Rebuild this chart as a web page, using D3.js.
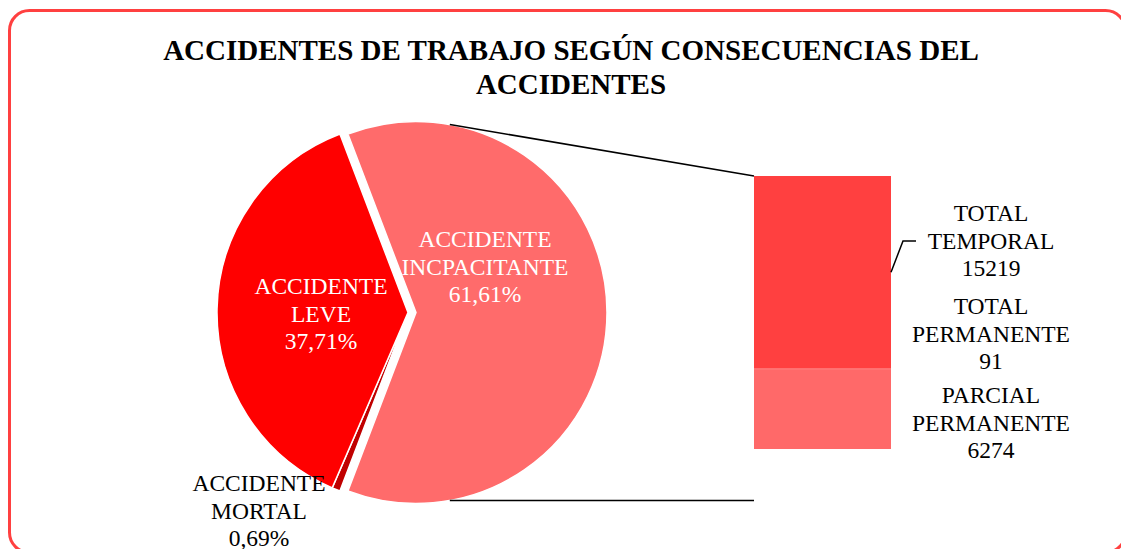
<!DOCTYPE html>
<html>
<head>
<meta charset="utf-8">
<script src="https://cdn.jsdelivr.net/npm/d3@7"></script>
<style>
  body { margin: 0; background: #fff; }
  text { font-family: "Liberation Serif", "Times New Roman", serif; }
</style>
</head>
<body>
<div class="chart-pie"></div>
<script>
// datos del gráfico
var pieLabels = [["ACCIDENTE", "INCPACITANTE"], ["ACCIDENTE", "MORTAL"], ["ACCIDENTE", "LEVE"]];
var pieValues = [61.61, 0.69, 37.71];
var pieColors = ["#FF6B6B", "#C00000", "#FF0000"];

var barLabels = [["PARCIAL", "PERMANENTE"], ["TOTAL", "PERMANENTE"], ["TOTAL", "TEMPORAL"]];
var barValues = [6274, 91, 15219];
var barColors = ["#FF6969", "#FF4545", "#FF4040"];

var title = ["ACCIDENTES DE TRABAJO SEGÚN CONSECUENCIAS DEL", "ACCIDENTES"];

var W = 1121, H = 549;
var svg = d3.select(".chart-pie").append("svg")
  .attr("width", W).attr("height", H);

// borde redondeado
svg.append("rect")
  .attr("x", 9.5).attr("y", 10.5)
  .attr("width", 1116).attr("height", 542)
  .attr("rx", 20).attr("ry", 20)
  .attr("fill", "none").attr("stroke", "#FF4040").attr("stroke-width", 3);

// titulo
svg.append("text")
  .attr("x", 571).attr("y", 60)
  .attr("text-anchor", "middle")
  .style("font-size", "29px").style("font-weight", "bold")
  .selectAll("tspan").data(title).enter().append("tspan")
  .attr("x", 571).attr("dy", (d, i) => i ? 34 : 0)
  .text(d => d);

// pastel
var cx = 408, cy = 312.5, r = 191, explode = 8;
var share = pieValues[0] / d3.sum(pieValues);
var pie = d3.pie().sort(null)
  .startAngle(Math.PI / 2 - share * Math.PI)
  .endAngle(Math.PI / 2 - share * Math.PI + 2 * Math.PI);
var arcs = pie(pieValues);
var arc = d3.arc().innerRadius(0).outerRadius(r);

var chart = svg.append("g").attr("transform", "translate(" + cx + "," + cy + ")");
chart.selectAll("path").data(arcs).enter().append("path")
  .attr("d", arc)
  .attr("transform", (d, i) => i === 0 ? "translate(" + explode + ",0)" : null)
  .attr("fill", (d, i) => pieColors[i])
  .attr("stroke", "#fff").attr("stroke-width", 1.5);

// barra
var barX = 754, barW = 137;
var yScale = d3.scaleLinear().domain([0, d3.sum(barValues)]).range([449, 176]);
var stacked = [];
barValues.reduce((acc, v, i) => { stacked.push([acc, acc + v, i]); return acc + v; }, 0);

svg.append("g").selectAll("rect").data(stacked).enter().append("rect")
  .attr("x", barX).attr("width", barW)
  .attr("y", d => yScale(d[1]))
  .attr("height", d => yScale(d[0]) - yScale(d[1]))
  .attr("fill", d => barColors[d[2]]);

// lineas de conexion
var connAng = 10.2 * Math.PI / 180;
var pcx = cx + explode;
var topStart = [pcx + r * Math.sin(connAng), cy - r * Math.cos(connAng)];
var botStart = [pcx + r * Math.sin(Math.PI - connAng), cy - r * Math.cos(Math.PI - connAng)];
var line = d3.line();
svg.append("path").attr("d", line([topStart, [barX, yScale(d3.sum(barValues))]]))
  .attr("fill", "none").attr("stroke", "#000").attr("stroke-width", 1.5);
svg.append("path").attr("d", line([botStart, [barX, botStart[1]]]))
  .attr("fill", "none").attr("stroke", "#000").attr("stroke-width", 1.5);

// etiquetas del pastel
function multiText(g, x, y, lines, color) {
  var t = g.append("text").attr("x", x).attr("y", y)
    .attr("text-anchor", "middle").attr("fill", color)
    .style("font-size", "23.5px");
  lines.forEach((s, i) => t.append("tspan").attr("x", x).attr("dy", i ? 27.5 : 0).text(s));
}
var pieLabelPos = [[485, 247, "#fff"], [259, 491, "#000"], [321, 294, "#fff"]];
arcs.forEach((d, i) => {
  var pct = d3.format(".2f")(pieValues[i]).replace(".", ",") + "%";
  multiText(svg, pieLabelPos[i][0], pieLabelPos[i][1], pieLabels[i].concat([pct]), pieLabelPos[i][2]);
});

// etiquetas de la barra
var barLabelY = [403, 314, 221];
barValues.forEach((v, i) => {
  multiText(svg, 991, barLabelY[i], barLabels[i].concat([String(v)]), "#000");
});

// guia de la etiqueta TOTAL TEMPORAL
var midTemp = yScale(stacked[2][0] + barValues[2] / 2);
svg.append("path")
  .attr("d", line([[barX + barW, midTemp], [903, 241], [916, 241]]))
  .attr("fill", "none").attr("stroke", "#000").attr("stroke-width", 1.5);
</script>
</body>
</html>
